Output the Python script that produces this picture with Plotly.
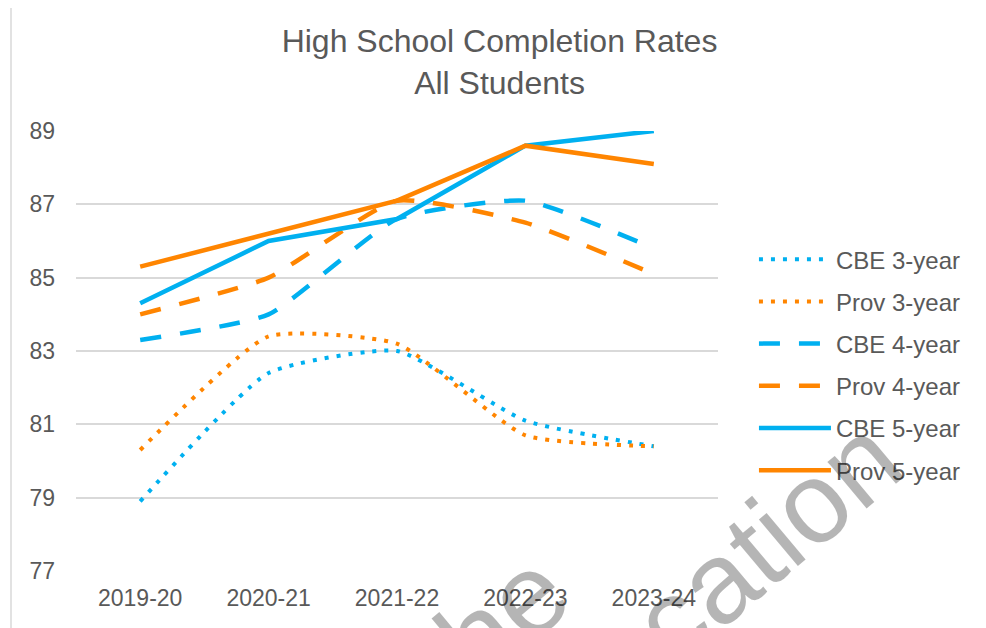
import plotly.graph_objects as go

years = ["2019-20", "2020-21", "2021-22", "2022-23", "2023-24"]
cbe_3 = [78.9, 82.4, 83.0, 81.1, 80.4]
prov_3 = [80.3, 83.4, 83.2, 80.7, 80.4]
cbe_4 = [83.3, 84.0, 86.6, 87.1, 85.8]
prov_4 = [84.0, 85.0, 87.1, 86.5, 85.1]
cbe_5 = [84.3, 86.0, 86.6, 88.6, 89.0]
prov_5 = [85.3, 86.2, 87.1, 88.6, 88.1]
y_ticks = [77, 79, 81, 83, 85, 87, 89]

BLUE = "#00B0F0"
ORANGE = "#FF8500"
TEXT = "#595959"
GRID = "#D9D9D9"
FONT = "Liberation Sans, Arial, sans-serif"

series = [
    ("CBE 3-year", cbe_3, BLUE, "4px,8px", 4, "spline"),
    ("Prov 3-year", prov_3, ORANGE, "4px,8px", 4, "spline"),
    ("CBE 4-year", cbe_4, BLUE, "21px,19px", 4.5, "spline"),
    ("Prov 4-year", prov_4, ORANGE, "21px,19px", 4.5, "spline"),
    ("CBE 5-year", cbe_5, BLUE, "solid", 4.5, "linear"),
    ("Prov 5-year", prov_5, ORANGE, "solid", 4.5, "linear"),
]

fig = go.Figure()
for i, (name, vals, color, dash, w, shape) in enumerate(series):
    line = dict(color=color, width=w, dash=dash, shape=shape)
    if shape == "spline":
        line["smoothing"] = 0.5
    fig.add_trace(go.Scatter(
        x=years, y=vals, name=name, mode="lines", line=line,
        legendgroup=f"g{i}",
    ))

# chart border
fig.add_shape(type="rect", xref="paper", yref="paper",
              x0=-0.10125, x1=1.44, y0=-0.16, y1=1.2875,
              line=dict(color=GRID, width=1.5), layer="below")

# watermark fragments
for txt, x, y in [("the", 0.645, -0.125), ("Education", 0.9533, -0.0795)]:
    fig.add_annotation(text=txt, xref="paper", yref="paper", x=x, y=y,
                       xanchor="center", yanchor="middle",
                       showarrow=False, textangle=-40,
                       font=dict(family=FONT, size=115,
                                 color="rgba(0,0,0,0.29)"))

fig.update_layout(
    width=986, height=628,
    margin=dict(l=68, r=276, t=123, b=65, autoexpand=False),
    paper_bgcolor="white", plot_bgcolor="white",
    font=dict(family=FONT, color=TEXT),
    title=dict(text="High School Completion Rates<br>All Students",
               x=0.4985, xanchor="center", xref="container",
               y=1 - 44 / 628, yanchor="top", yref="container",
               font=dict(size=32, color=TEXT, family=FONT)),
    showlegend=True,
    legend=dict(x=1.056, xanchor="left", y=0.468, yanchor="middle",
                font=dict(size=24, color=TEXT, family=FONT),
                itemwidth=72, tracegroupgap=8, bgcolor="rgba(0,0,0,0)"),
    xaxis=dict(type="category", range=[-0.5, 4.5], showgrid=False,
               zeroline=False, showline=False,
               ticks="", tickfont=dict(size=23, color=TEXT, family=FONT),
               ticklabelstandoff=11, fixedrange=True),
    yaxis=dict(range=[77, 89], tickvals=y_ticks, showgrid=True,
               gridcolor=GRID, gridwidth=1.5, zeroline=False, showline=False,
               ticks="", tickfont=dict(size=23, color=TEXT, family=FONT),
               ticklabelstandoff=20),
)

fig.write_html("out.html")
